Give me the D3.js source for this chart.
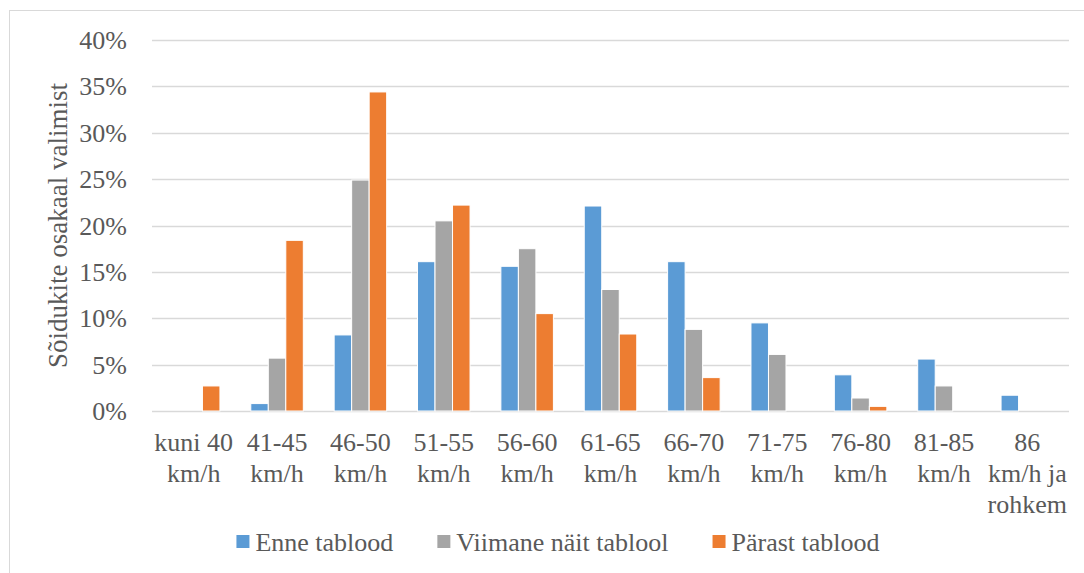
<!DOCTYPE html>
<html>
<head>
<meta charset="utf-8">
<script src="https://cdn.jsdelivr.net/npm/d3@7"></script>
<style>
	body { margin: 0; background: #fff; }
	#chart svg, #chart svg text, #chart svg tspan { font-family: "Liberation Serif", "Times New Roman", serif !important; }
</style>
</head>
<body>
<div id="chart"></div>
<script>
// chart data
const categories = ["kuni 40|km/h", "41-45|km/h", "46-50|km/h", "51-55|km/h", "56-60|km/h",
	"61-65|km/h", "66-70|km/h", "71-75|km/h", "76-80|km/h", "81-85|km/h", "86|km/h ja|rohkem"];
const seriesNames = ["Enne tablood", "Viimane näit tablool", "Pärast tablood"];
const enne = [0, 0.8, 8.2, 16.1, 15.6, 22.1, 16.1, 9.5, 3.9, 5.6, 1.7];
const viimane = [0, 5.7, 24.9, 20.5, 17.5, 13.1, 8.8, 6.1, 1.4, 2.7, 0];
const parast = [2.7, 18.4, 34.4, 22.2, 10.5, 8.3, 3.6, 0, 0.5, 0, 0];
const yTicks = [0, 5, 10, 15, 20, 25, 30, 35, 40];
const colors = ["#5b9bd5", "#a5a5a5", "#ed7d31"];

const width = 1084;
const height = 573;
const margin = {top: 40, right: 15, bottom: 162, left: 152};

const svg = d3.select("#chart")
	.append("svg")
	.attr("width", width)
	.attr("height", height)
	.attr("font-family", "Liberation Serif");

// every label goes through this so the serif face sticks
function label(sel, size) {
	return sel
		.attr("fill", "#595959")
		.attr("font-family", "Liberation Serif")
		.attr("style", `font-family: 'Liberation Serif', serif !important; font-size: ${size}px;`);
}

// outer chart frame (cropped at right and bottom)
svg.append("rect")
	.attr("x", 9.5)
	.attr("y", 10.5)
	.attr("width", width)
	.attr("height", height)
	.attr("fill", "none")
	.attr("stroke", "#d9d9d9");

const x0 = d3.scaleBand()
	.domain(categories)
	.range([margin.left, width - margin.right])
	.padding(0);

const groupW = x0.bandwidth() * 0.63;
const x1 = d3.scaleBand()
	.domain(seriesNames)
	.range([0, groupW])
	.padding(0);

const y = d3.scaleLinear()
	.domain([0, 40])
	.range([height - margin.bottom, margin.top]);

// gridlines
svg.append("g")
	.selectAll("line")
	.data(yTicks)
	.join("line")
	.attr("x1", margin.left)
	.attr("x2", width - margin.right)
	.attr("y1", d => Math.round(y(d)) + 0.5)
	.attr("y2", d => Math.round(y(d)) + 0.5)
	.attr("stroke", "#d9d9d9")
	.attr("stroke-width", 1.5);

// y tick labels
svg.append("g")
	.selectAll("text")
	.data(yTicks)
	.join("text")
	.attr("x", 127)
	.attr("y", d => y(d))
	.attr("dy", "0.35em")
	.attr("text-anchor", "end")
	.call(label, 26)
	.text(d => d + "%");

// bars
const allSeries = [enne, viimane, parast];
const groups = svg.append("g")
	.selectAll("g")
	.data(categories)
	.join("g")
	.attr("transform", d => `translate(${x0(d) + (x0.bandwidth() - groupW) / 2},0)`);

groups.selectAll("rect")
	.data((d, i) => seriesNames.map((s, j) => ({series: s, value: allSeries[j][i], color: colors[j]})))
	.join("rect")
	.filter(d => d.value > 0)
	.attr("x", d => x1(d.series))
	.attr("y", d => y(d.value))
	.attr("width", x1.bandwidth())
	.attr("height", d => y(0) - y(d.value))
	.attr("fill", d => d.color)
	.attr("stroke", "#fff")
	.attr("stroke-width", 1);

// x labels, one text per line
const xLabels = svg.append("g")
	.selectAll("g")
	.data(categories)
	.join("g")
	.attr("transform", d => `translate(${x0(d) + x0.bandwidth() / 2},0)`);

xLabels.selectAll("text")
	.data(d => d.split("|"))
	.join("text")
	.attr("text-anchor", "middle")
	.attr("x", 0)
	.attr("y", (d, i) => 451 + i * 31)
	.call(label, 26)
	.text(d => d);

// y axis title
svg.append("text")
	.attr("transform", `translate(67,${(y(0) + y(40)) / 2}) rotate(-90)`)
	.attr("text-anchor", "middle")
	.call(label, 27)
	.text("Sõidukite osakaal valimist");

// legend
const legend = svg.append("g");
let lx = 0;
seriesNames.forEach((name, i) => {
	legend.append("rect")
		.attr("x", lx)
		.attr("y", -7)
		.attr("width", 13)
		.attr("height", 13)
		.attr("fill", colors[i]);
	const t = legend.append("text")
		.attr("x", lx + 19)
		.attr("y", 0)
		.attr("dy", "0.35em")
		.call(label, 26)
		.text(name);
	lx += 19 + t.node().getComputedTextLength() + 44;
});
const legendW = lx - 44;
legend.attr("transform", `translate(${558 - legendW / 2},542)`);
</script>
</body>
</html>
